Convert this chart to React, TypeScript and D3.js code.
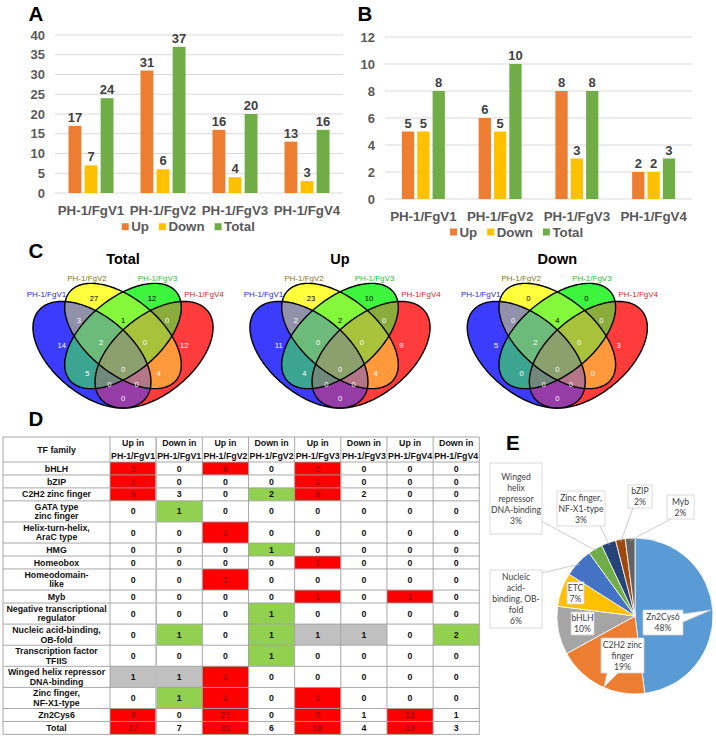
import React from 'react';
import * as d3 from 'd3';

// ---------------- Data ----------------
const comparisons = ['PH-1/FgV1', 'PH-1/FgV2', 'PH-1/FgV3', 'PH-1/FgV4'];
const seriesNames = ['Up', 'Down', 'Total'];
const seriesColors = ['#ED7D31', '#FFC000', '#70AD47'];

const aUp = [17, 31, 16, 13];
const aDown = [7, 6, 4, 3];
const aTotal = [24, 37, 20, 16];
const aTicks = [0, 5, 10, 15, 20, 25, 30, 35, 40];

const bUp = [5, 6, 8, 2];
const bDown = [5, 5, 3, 2];
const bTotal = [8, 10, 8, 3];
const bTicks = [0, 2, 4, 6, 8, 10, 12];

const vennTitles = ['Total', 'Up', 'Down'];
const vennSetColors = ['#3c3cff', '#ffff3c', '#3cf53c', '#ff3c3c'];
const vennSetWeights = [1.3, 1, 1.7, 1.1];
const vennLabelColors = ['#2a2ac8', '#857515', '#2cc02c', '#d42828'];
// region keys = set membership (1..4)
const vennRegions = ['2', '3', '12', '23', '34', '1', '4', '123', '234', '13', '1234', '24', '134', '124', '14'];
const vennTotal = [27, 12, 3, 1, 0, 14, 12, 2, 0, 5, 0, 4, 0, 0, 0];
const vennUp = [23, 10, 2, 2, 0, 11, 9, 0, 0, 4, 0, 4, 0, 0, 0];
const vennDown = [0, 0, 0, 4, 0, 5, 3, 2, 0, 0, 0, 0, 0, 0, 0];

const tableColumns = [
  'Up in\nPH-1/FgV1', 'Down in\nPH-1/FgV1', 'Up in\nPH-1/FgV2', 'Down in\nPH-1/FgV2',
  'Up in\nPH-1/FgV3', 'Down in\nPH-1/FgV3', 'Up in\nPH-1/FgV4', 'Down in\nPH-1/FgV4',
];
const tfFamilies = [
  'bHLH', 'bZIP', 'C2H2 zinc finger', 'GATA type\nzinc finger', 'Helix-turn-helix,\nAraC type', 'HMG',
  'Homeobox', 'Homeodomain-\nlike', 'Myb', 'Negative transcriptional\nregulator',
  'Nucleic acid-binding,\nOB-fold', 'Transcription factor\nTFIIS', 'Winged helix repressor\nDNA-binding',
  'Zinc finger,\nNF-X1-type', 'Zn2Cys6', 'Total',
];
const tableValues = [
  [2, 0, 6, 0, 2, 0, 0, 0],
  [1, 0, 0, 0, 1, 0, 0, 0],
  [5, 3, 0, 2, 6, 2, 0, 0],
  [0, 1, 0, 0, 0, 0, 0, 0],
  [0, 0, 1, 0, 0, 0, 0, 0],
  [0, 0, 0, 1, 0, 0, 0, 0],
  [0, 0, 0, 0, 1, 0, 0, 0],
  [0, 0, 1, 0, 0, 0, 0, 0],
  [0, 0, 0, 0, 1, 0, 1, 0],
  [0, 0, 0, 1, 0, 0, 0, 0],
  [0, 1, 0, 1, 1, 1, 0, 2],
  [0, 0, 0, 1, 0, 0, 0, 0],
  [1, 1, 1, 0, 0, 0, 0, 0],
  [0, 1, 1, 0, 1, 0, 0, 0],
  [8, 0, 21, 0, 3, 1, 12, 1],
  [17, 7, 31, 6, 16, 4, 13, 3],
];
const tableMarks = [
  'r.r.r...', 'r...r...', 'r..gr...', '.g......', '..r.....', '...g....', '....r...', '..r.....',
  '....r.r.', '...g....', '.g.gss.g', '...g....', 'ssr.....', '.gr.r...', 'r.r.r.r.', 'r.r.r.r.',
];

const pieNames = ['Zn2Cys6', 'C2H2 zinc finger', 'bHLH', 'ETC', 'Nucleic acid-binding, OB-fold',
  'Winged helix repressor DNA-binding', 'Zinc finger, NF-X1-type', 'bZIP', 'Myb'];
const piePercents = [48, 19, 10, 7, 6, 3, 3, 2, 2];
const pieColors = ['#5B9BD5', '#ED7D31', '#A5A5A5', '#FFC000', '#4472C4', '#70AD47', '#264478', '#9E480E', '#636363'];

// ---------------- Layout ----------------
const FONT = "'Liberation Sans', Arial, sans-serif";
const markFill: Record<string, string> = { r: '#FF0000', g: '#92D050', s: '#C0C0C0', '.': '#FFFFFF' };

function BarPanel(props: any) {
  const { x0, x1, yZero, yTop, max, ticks, series, tickRight, xLabelY, legendX, legendY, pad } = props;
  const x = d3.scaleBand().domain(comparisons).range([x0, x1]).paddingInner(pad).paddingOuter(pad / 2);
  const xs = d3.scaleBand().domain(seriesNames).range([0, x.bandwidth()]).paddingInner(0.2);
  const y = d3.scaleLinear().domain([0, max]).range([yZero, yTop]);
  const legendOffsets = [0, 37.2, 92.9];
  return (
    <g>
      {ticks.map((t: number) => (
        <g key={t}>
          <line x1={x0} x2={x1} y1={y(t)} y2={y(t)} stroke="#D9D9D9" strokeWidth={1} />
          <text x={tickRight} y={y(t)} dy="0.35em" textAnchor="end" fontSize={13} fontWeight="bold" fill="#595959">{t}</text>
        </g>
      ))}
      {comparisons.map((c, i) => (
        <g key={c} transform={`translate(${x(c)},0)`}>
          {seriesNames.map((s, j) => {
            const v = series[j][i];
            return (
              <g key={s}>
                <rect x={xs(s)} y={y(v)} width={xs.bandwidth()} height={y(0) - y(v)} fill={seriesColors[j]} />
                <text x={(xs(s) as number) + xs.bandwidth() / 2} y={y(v) - 4} textAnchor="middle" fontSize={13} fontWeight="bold" fill="#404040">{v}</text>
              </g>
            );
          })}
          <text x={x.bandwidth() / 2} y={xLabelY} dy="0.35em" textAnchor="middle" fontSize={13.3} fontWeight="bold" fill="#595959">{c}</text>
        </g>
      ))}
      {seriesNames.map((s, j) => (
        <g key={s} transform={`translate(${legendX + legendOffsets[j]},${legendY})`}>
          <rect x={0} y={-3.5} width={7} height={7} fill={seriesColors[j]} />
          <text x={9.5} y={0} dy="0.35em" fontSize={13.3} fontWeight="bold" fill="#595959">{s}</text>
        </g>
      ))}
    </g>
  );
}

// Venn geometry in unit model coordinates
const SX = 207, SY = 187, VENN_Y = 349.1;
const vx = d3.scaleLinear().domain([0, 1]).range([-SX / 2, SX / 2]);
const vy = d3.scaleLinear().domain([0, 1]).range([SY / 2, -SY / 2]);
const vennEllipses = [
  { cx: 0.35, cy: 0.47, a: 0.35, b: 0.2, dir: -1 },
  { cx: 0.5, cy: 0.57, a: 0.35, b: 0.19, dir: -1 },
  { cx: 0.5, cy: 0.57, a: 0.35, b: 0.19, dir: 1 },
  { cx: 0.65, cy: 0.47, a: 0.35, b: 0.2, dir: 1 },
];
const vennLabelPos: Record<string, [number, number]> = {
  '2': [0.36, 0.772], '3': [0.64, 0.772], '12': [0.287, 0.656], '23': [0.5, 0.656], '34': [0.713, 0.656],
  '1': [0.204, 0.518], '4': [0.796, 0.518], '123': [0.394, 0.534], '234': [0.606, 0.534],
  '13': [0.328, 0.371], '1234': [0.5, 0.394], '24': [0.672, 0.371], '134': [0.434, 0.312],
  '124': [0.566, 0.312], '14': [0.5, 0.237],
};
const vennSetLabelPos: [number, number][] = [[0.13, 0.794], [0.326, 0.88], [0.667, 0.88], [0.891, 0.794]];
const vennCenters = [123, 340, 557.3];

function ellipsePath(e: any) {
  const th = (e.dir * Math.PI) / 4;
  const pts = d3.range(0, 180).map((i) => {
    const t = (i / 180) * 2 * Math.PI;
    const px = e.a * Math.cos(t), py = e.b * Math.sin(t);
    const u = e.cx + px * Math.cos(th) - py * Math.sin(th);
    const v = e.cy + px * Math.sin(th) + py * Math.cos(th);
    return [vx(u), vy(v)] as [number, number];
  });
  return d3.line().curve(d3.curveLinearClosed)(pts) as string;
}
const ellPaths = vennEllipses.map(ellipsePath);

function regionColor(key: string) {
  const ks = key.split('').map((k) => +k - 1);
  const cs = ks.map((k) => d3.rgb(vennSetColors[k]));
  const ws = ks.map((k) => vennSetWeights[k]);
  const W = d3.sum(ws);
  const mix = (f: (c: d3.RGBColor) => number) => d3.sum(cs, (c, i) => f(c) * ws[i]) / W;
  return d3.rgb(mix((c) => c.r), mix((c) => c.g), mix((c) => c.b));
}
function lum(c: d3.RGBColor) { return 0.2126 * c.r + 0.7152 * c.g + 0.0722 * c.b; }

function VennDefs() {
  return (
    <defs>
      {ellPaths.map((p, k) => (
        <clipPath id={`vc${k}`} key={k}><path d={p} /></clipPath>
      ))}
      {vennRegions.map((r) => (
        <mask id={`vm${r}`} key={r} maskUnits="userSpaceOnUse" x={-160} y={-110} width={320} height={220}>
          <rect x={-160} y={-110} width={320} height={220} fill="#fff" />
          {ellPaths.map((p, k) => (r.includes(String(k + 1)) ? null : <path key={k} d={p} fill="#000" />))}
        </mask>
      ))}
    </defs>
  );
}

function Venn({ idx, values }: { idx: number; values: number[] }) {
  const cx = vennCenters[idx];
  return (
    <g transform={`translate(${cx},${VENN_Y})`}>
      <text x={0} y={263.5 - VENN_Y} textAnchor="middle" fontSize={14.5} fontWeight="bold" fill="#000">{vennTitles[idx]}</text>
      {vennRegions.map((r) => {
        const members = r.split('').map((k) => +k - 1);
        const inner = <rect x={-160} y={-110} width={320} height={220} fill={regionColor(r).toString()} mask={`url(#vm${r})`} />;
        return <g key={r}>{members.reduceRight((acc: any, k) => <g clipPath={`url(#vc${k})`}>{acc}</g>, inner)}</g>;
      })}
      {ellPaths.map((p, k) => <path key={k} d={p} fill="none" stroke="#000" strokeWidth={1.4} />)}
      {vennRegions.map((r, i) => {
        const [u, v] = vennLabelPos[r];
        return (
          <text key={r} x={vx(u)} y={vy(v)} dy="0.35em" textAnchor="middle" fontSize={7.6}
            fill={lum(regionColor(r)) > 182 ? '#000' : '#fff'}>{values[i]}</text>
        );
      })}
      {comparisons.map((c, k) => (
        <text key={c} x={vx(vennSetLabelPos[k][0])} y={vy(vennSetLabelPos[k][1])} dy="0.35em" textAnchor="middle"
          fontSize={8} fill={vennLabelColors[k]}>{c}</text>
      ))}
    </g>
  );
}

function Table() {
  const left = 3, top = 437;
  const colX = d3.scaleLinear().domain([0, 8]).range([110, 479.3]);
  const heights = [25, ...tfFamilies.map((f) => (f.includes('\n') ? 21.1 : 12.95))];
  const ys = [top, ...Array.from(d3.cumsum(heights)).map((h) => top + h)];
  const bottom = ys[ys.length - 1];
  const fs = 8.8;
  const lines = (txt: string, x: number, yc: number, gap: number, fill = '#111') => {
    const ls = txt.split('\n');
    return ls.map((l, i) => (
      <text key={i} x={x} y={yc + (i - (ls.length - 1) / 2) * gap} dy="0.35em" textAnchor="middle"
        fontSize={fs} fontWeight="bold" fill={fill}>{l}</text>
    ));
  };
  return (
    <g>
      {tfFamilies.map((f, r) => (
        <g key={f}>
          {tableValues[r].map((v, c) => (
            <rect key={c} x={colX(c)} y={ys[r + 1]} width={colX(c + 1) - colX(c)} height={ys[r + 2] - ys[r + 1]}
              fill={markFill[tableMarks[r][c]]} />
          ))}
        </g>
      ))}
      {ys.map((y, i) => <line key={i} x1={left} x2={479.3} y1={y} y2={y} stroke="#9E9E9E" strokeWidth={0.9} />)}
      {[left, ...d3.range(0, 9).map((c) => colX(c))].map((x, i) => (
        <line key={i} x1={x} x2={x} y1={top} y2={bottom} stroke={i === 2 ? '#BDBDBD' : '#9E9E9E'} strokeWidth={i === 2 ? 1.8 : 0.9} />
      ))}
      <g>{lines('TF family', (left + colX(0)) / 2, (ys[0] + ys[1]) / 2, 12)}</g>
      {tableColumns.map((h, c) => <g key={c}>{lines(h, (colX(c) + colX(c + 1)) / 2, (ys[0] + ys[1]) / 2, 12.4)}</g>)}
      {tfFamilies.map((f, r) => (
        <g key={f}>
          {lines(f, (left + colX(0)) / 2, (ys[r + 1] + ys[r + 2]) / 2, 9.6)}
          {tableValues[r].map((v, c) => (
            <g key={c}>{lines(String(v), (colX(c) + colX(c + 1)) / 2, (ys[r + 1] + ys[r + 2]) / 2, 9.6,
              tableMarks[r][c] === 'r' ? '#A50000' : '#111')}</g>
          ))}
        </g>
      ))}
    </g>
  );
}

// Pie callout layout (boxes and leader anchors are annotation layout)
const pieCenter = [635, 616];
const pieR = 78;
const pieLabelLayout: any[] = [
  { box: [643, 610, 40, 25], lines: ['Zn2Cys6'], wedge: { side: 'right', a: 614, b: 622, tip: [711, 610] } },
  { box: [601, 638, 43, 35], lines: ['C2H2 zinc', 'finger'], wedge: { side: 'bottom', a: 607, b: 618, tip: [604, 687] } },
  { box: [571, 612, 23, 23], lines: ['bHLH'] },
  { box: [567, 582, 17, 22], lines: ['ETC'] },
  { box: [490, 570, 52, 58], lines: ['Nucleic', 'acid-', 'binding, OB-', 'fold'], leader: [541, 573] },
  { box: [490, 463, 52, 71], lines: ['Winged', 'helix', 'repressor', 'DNA-binding'], leader: [541, 521] },
  { box: [557, 491, 48, 35], lines: ['Zinc finger,', 'NF-X1-type'], leader: [600, 526] },
  { box: [628, 485, 24, 23], lines: ['bZIP'], leader: [633, 508] },
  { box: [667, 495, 27, 24], lines: ['Myb'], leader: [671, 519] },
];

function Pie() {
  const arcs = d3.pie<number>().sort(null).value((d) => d)(piePercents);
  const arc = d3.arc<d3.PieArcDatum<number>>().innerRadius(0).outerRadius(pieR);
  const [cx, cy] = pieCenter;
  return (
    <g>
      <g transform={`translate(${cx},${cy})`}>
        {arcs.map((a, i) => <path key={i} d={arc(a) as string} fill={pieColors[i]} stroke="#fff" strokeWidth={0.8} />)}
      </g>
      {arcs.map((a, i) => {
        const L = pieLabelLayout[i];
        const [bx, by, bw, bh] = L.box;
        const mid = (a.startAngle + a.endAngle) / 2;
        const edge = [cx + pieR * 0.97 * Math.sin(mid), cy - pieR * 0.97 * Math.cos(mid)];
        let shape: string;
        if (L.wedge && L.wedge.side === 'right') {
          const w = L.wedge;
          shape = `M${bx},${by}H${bx + bw}V${w.a}L${w.tip[0]},${w.tip[1]}L${bx + bw},${w.b}V${by + bh}H${bx}Z`;
        } else if (L.wedge && L.wedge.side === 'bottom') {
          const w = L.wedge;
          shape = `M${bx},${by}H${bx + bw}V${by + bh}H${w.b}L${w.tip[0]},${w.tip[1]}L${w.a},${by + bh}H${bx}Z`;
        } else {
          shape = `M${bx},${by}H${bx + bw}V${by + bh}H${bx}Z`;
        }
        const all = [...L.lines, `${piePercents[i]}%`];
        const yc = by + bh / 2;
        return (
          <g key={i}>
            {L.leader && <line x1={L.leader[0]} y1={L.leader[1]} x2={edge[0]} y2={edge[1]} stroke="#BFBFBF" strokeWidth={0.8} />}
            <path d={shape} fill="#fff" stroke="#D0D0D0" strokeWidth={0.8} />
            {all.map((l, j) => (
              <text key={j} x={bx + bw / 2} y={yc + (j - (all.length - 1) / 2) * 11} dy="0.35em" textAnchor="middle"
                fontSize={8.6} fontFamily="Lato, 'Open Sans', sans-serif" fill="#404040">{l}</text>
            ))}
          </g>
        );
      })}
    </g>
  );
}

function PanelLabel({ x, y, t }: { x: number; y: number; t: string }) {
  return <text x={x} y={y} fontSize={20.5} fontWeight="bold" fill="#000">{t}</text>;
}

export default function App() {
  return (
    <svg width={716} height={738} style={{ position: 'absolute', left: 0, top: 0, background: '#fff' }} fontFamily={FONT}>
      <rect width={716} height={738} fill="#fff" />
      <VennDefs />
      <PanelLabel x={28.5} y={20.7} t="A" />
      <PanelLabel x={357.5} y={20.7} t="B" />
      <PanelLabel x={28.5} y={258} t="C" />
      <PanelLabel x={28.5} y={426} t="D" />
      <PanelLabel x={506} y={450} t="E" />
      <BarPanel x0={55} x1={343} yZero={193} yTop={35} max={40} ticks={aTicks} series={[aUp, aDown, aTotal]}
        tickRight={45} xLabelY={210} legendX={121.7} legendY={226.7} pad={0.375} />
      <BarPanel x0={385} x1={692} yZero={199} yTop={37} max={12} ticks={bTicks} series={[bUp, bDown, bTotal]}
        tickRight={375} xLabelY={216.5} legendX={450} legendY={232} pad={0.44} />
      <Venn idx={0} values={vennTotal} />
      <Venn idx={1} values={vennUp} />
      <Venn idx={2} values={vennDown} />
      <Table />
      <Pie />
    </svg>
  );
}
